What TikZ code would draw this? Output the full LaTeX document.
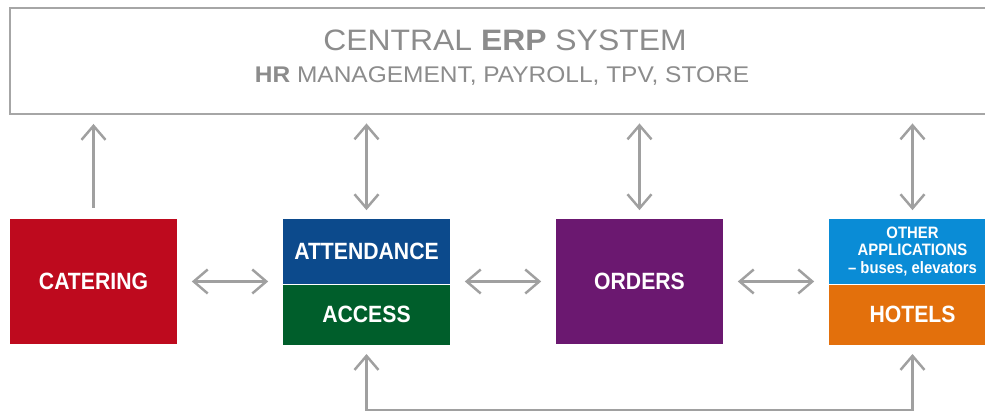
\documentclass[tikz,border=0pt]{standalone}
\usepackage{fontspec}
\setmainfont{Liberation Sans}
\newfontfamily\narrowfont{Liberation Sans}[FakeStretch=0.9, Ligatures=TeX]
\newfontfamily\widefont{Liberation Sans}[FakeStretch=1.08, Ligatures=TeX]
\usepackage{tikz}
\usetikzlibrary{positioning,arrows.meta}
\definecolor{erpgray}{HTML}{A6A6A6}
\definecolor{erptext}{HTML}{8C8C8C}
\definecolor{linkgray}{HTML}{A0A0A0}
\definecolor{cateringred}{HTML}{BE0A1E}
\definecolor{attendblue}{HTML}{0C4A8C}
\definecolor{accessgreen}{HTML}{005E2B}
\definecolor{orderspurple}{HTML}{6B1870}
\definecolor{otherblue}{HTML}{0A8CD6}
\definecolor{hotelorange}{HTML}{E3700C}
\tikzset{appbox/.style={rectangle, inner sep=0pt, minimum width=3.34cm, text=white, font=\narrowfont\fontsize{13.4}{15}\selectfont\bfseries},
  fullbox/.style={appbox, minimum height=2.5cm},
  topbox/.style={appbox, minimum height=1.3cm},
  lowbox/.style={appbox, minimum height=1.2cm},
  link/.style={draw=linkgray, line width=1.4pt, arrows={Straight Barb[length=2.8mm,width=4.8mm]-Straight Barb[length=2.8mm,width=4.8mm]}},}

\begin{document}
\begin{tikzpicture}[x=0.02cm, y=0.02cm]
\useasboundingbox (0,0) rectangle (985,411);
\clip (0,0) rectangle (985,411);
\fill[white] (0,0) rectangle (985,411);
\node [draw=erpgray, line width=1.1pt, minimum width=19.64cm, minimum height=2.12cm] (erp) at (501,350) {};
\node [text=erptext, font=\widefont\fontsize{16.8}{20}\selectfont, anchor=base] (erptitle) at (505,360) {CENTRAL \textbf{ERP} SYSTEM};
\node [text=erptext, font=\widefont\fontsize{12.9}{16}\selectfont, anchor=base] (erpsub) at (502,328) {\textbf{HR} MANAGEMENT, PAYROLL, TPV, STORE};
\node [fullbox, fill=cateringred] (catering) at (93.5,129.5) {CATERING};
\node [topbox, fill=attendblue] (attendance) at (366.5,159.5) {ATTENDANCE};
\node [lowbox, fill=accessgreen] (access) [below=0pt of attendance] {ACCESS};
\node [fullbox, fill=orderspurple] (orders) at (639.5,129.5) {ORDERS};
\node [topbox, fill=otherblue, align=center, font=\narrowfont\fontsize{9.4}{9.8}\selectfont\bfseries] (other) at (912.5,159.5) {OTHER\\APPLICATIONS\\– buses, elevators};
\node [lowbox, fill=hotelorange] (hotels) [below=0pt of other] {HOTELS};
\draw [link, arrows={-Straight Barb[length=2.8mm,width=4.8mm]}, shorten <=0.22cm, shorten >=0.18cm] (catering) -- (catering |- erp.south);
\draw [link, shorten <=0.17cm, shorten >=0.17cm] (attendance) -- (attendance |- erp.south);
\draw [link, shorten <=0.17cm, shorten >=0.17cm] (orders) -- (orders |- erp.south);
\draw [link, shorten <=0.17cm, shorten >=0.17cm] (other) -- (other |- erp.south);
\draw [link, shorten <=0.29cm, shorten >=0.29cm] (catering) -- (catering -| attendance.west);
\draw [link, shorten <=0.29cm, shorten >=0.29cm] (orders -| attendance.east) -- (orders);
\draw [link, shorten <=0.29cm, shorten >=0.29cm] (orders) -- (orders -| other.west);
\draw [link, shorten <=0.18cm, shorten >=0.18cm] (access.south) -- ++(0,-65) -| (hotels.south);
\end{tikzpicture}
\end{document}
